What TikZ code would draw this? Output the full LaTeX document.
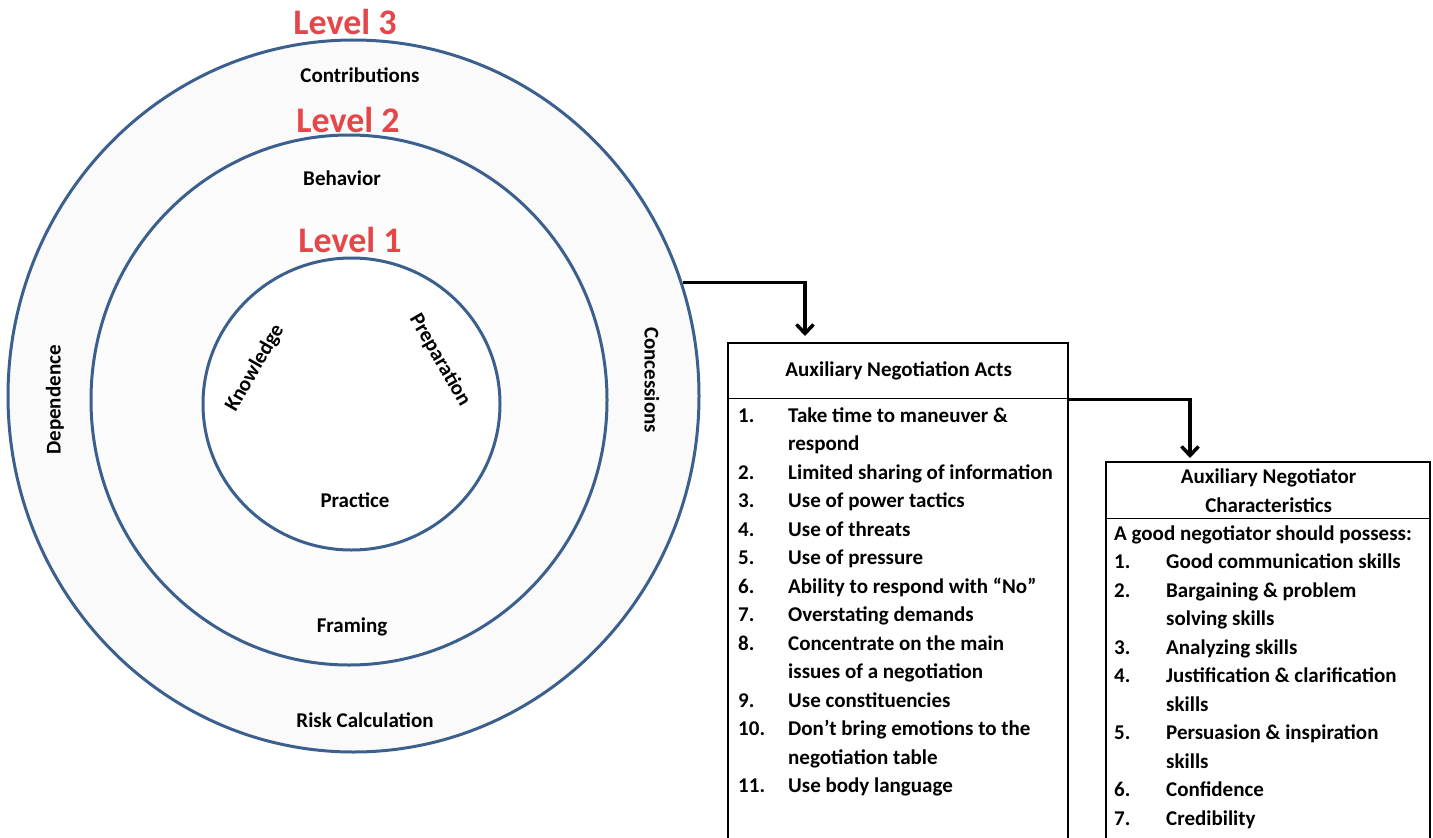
\documentclass[tikz,border=0pt]{standalone}
\usepackage{fontspec}
\setmainfont{Carlito}
\usetikzlibrary{arrows.meta, positioning, shapes.geometric}
\definecolor{ringblue}{RGB}{60,96,142}
\definecolor{levelred}{RGB}{228,70,74}

\begin{document}
\begin{tikzpicture}[x=1pt, y=-1pt,
    font=\bfseries\fontsize{21}{28.5}\selectfont,
    ring/.style={ellipse, draw=ringblue, line width=3pt, inner sep=0pt},
    level/.style={text=levelred, font=\bfseries\fontsize{36}{36}\selectfont},
    boxhead/.style={draw, line width=1.3pt, inner sep=0pt, anchor=north west, align=center},
    conn/.style={line width=3.5pt, -{Straight Barb[length=9pt, width=17pt]}}]
    \useasboundingbox (0,0) rectangle (1433,838);
    \clip (0,0) rectangle (1433,838);

    % the three levels
    \node[ring, fill=gray!4, minimum width=691pt, minimum height=712pt] (outer) at (353.5,396) {};
    \node[ring, fill=gray!2, minimum width=516pt, minimum height=530pt] (middle) at (349,400) {};
    \node[ring, fill=white, minimum width=297pt, minimum height=292pt] (inner) at (351.5,404) {};

    \node[level] (lvlthree) at (345,22) {Level 3};
    \node[level] (lvltwo) at (348,120) {Level 2};
    \node[level] (lvlone) at (350,240) {Level 1};

    \node (contrib) at (360,75) {Contributions};
    \node (behav) at (342,178) {Behavior};
    \node[rotate=60] (knowl) at (255,368) {Knowledge};
    \node[rotate=-60] (prep) at (440,360) {Preparation};
    \node (pract) at (355,500) {Practice};
    \node (fram) at (352,627) {Framing};
    \node (risk) at (365,720) {Risk Calculation};
    \node[rotate=90] (depend) at (55,400) {Dependence};
    \node[rotate=-90] (conc) at (652,380) {Concessions};

    % negotiation acts
    \node[boxhead, minimum width=340pt, minimum height=55pt] (actshead) at (728,343) {Auxiliary Negotiation Acts};
    \draw[line width=1.3pt] (actshead.north west) rectangle (1068,860);
    \node[anchor=north west, inner sep=0pt] (actslist) at (738,402) {%
      \begin{tabular}{@{}p{50pt}@{}l@{}}
        1.  & Take time to maneuver \& \\
            & respond \\
        2.  & Limited sharing of information \\
        3.  & Use of power tactics \\
        4.  & Use of threats \\
        5.  & Use of pressure \\
        6.  & Ability to respond with ``No'' \\
        7.  & Overstating demands \\
        8.  & Concentrate on the main \\
            & issues of a negotiation \\
        9.  & Use constituencies \\
        10. & Don't bring emotions to the \\
            & negotiation table \\
        11. & Use body language
      \end{tabular}};

    % negotiator characteristics
    \node[boxhead, minimum width=324pt, minimum height=56pt] (charhead) at (1106,462) {Auxiliary Negotiator\\Characteristics};
    \draw[line width=1.3pt] (charhead.north west) rectangle (1430,860);
    \node[anchor=north west, inner sep=0pt] (charlist) at (1114,520) {%
      \begin{tabular}{@{}p{52pt}@{}l@{}}
        \multicolumn{2}{@{}l@{}}{A good negotiator should possess:} \\
        1. & Good communication skills \\
        2. & Bargaining \& problem \\
           & solving skills \\
        3. & Analyzing skills \\
        4. & Justification \& clarification \\
           & skills \\
        5. & Persuasion \& inspiration \\
           & skills \\
        6. & Confidence \\
        7. & Credibility
      \end{tabular}};

    % arrows
    \coordinate (actsin) at (805,336);
    \coordinate (charin) at (1190,458);
    \draw[conn] (outer.19.5) -| (actsin);
    \draw[conn] (actshead.south east) -| (charin);
\end{tikzpicture}
\end{document}
